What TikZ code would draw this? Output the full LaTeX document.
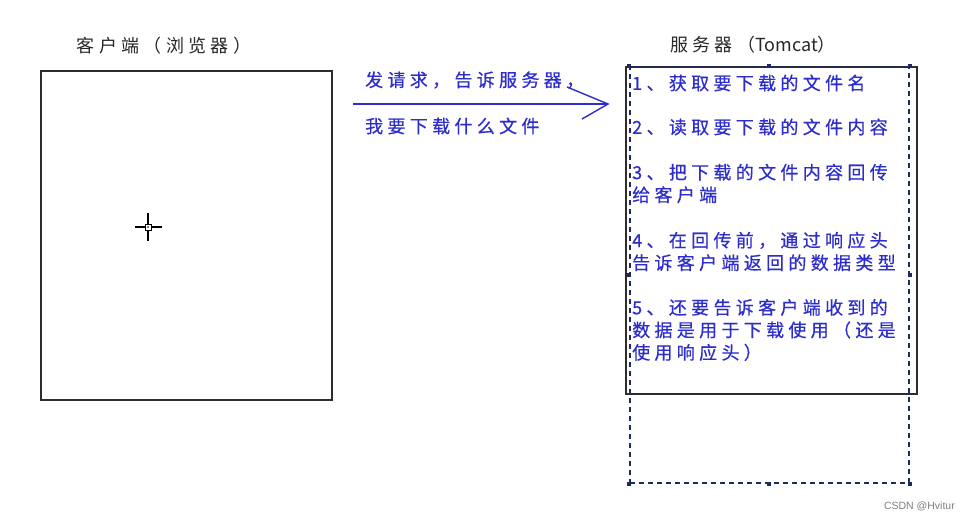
\documentclass[tikz,border=0pt]{standalone}
\usepackage{fontspec}
\newfontfamily\cjk{Noto Sans CJK SC}
\newfontfamily\cjksp[LetterSpace=24]{Noto Sans CJK SC}
\newfontfamily\cjkspb[LetterSpace=24,FakeBold=0.5]{Noto Sans CJK SC}
\setsansfont{Liberation Sans}
\definecolor{txtblue}{RGB}{45,45,205}
\definecolor{boxgray}{RGB}{45,45,45}
\definecolor{navy}{RGB}{30,40,100}
\definecolor{titlegray}{RGB}{40,40,40}
\tikzset{
  box/.style={draw=boxgray, line width=1.5pt, inner sep=0pt, anchor=north west},
  dbox/.style={draw=navy, line width=1.7pt, dash pattern=on 5pt off 4pt, inner sep=0pt, anchor=north west},
  title/.style={text=titlegray, font=\cjksp\fontsize{18}{20}\selectfont, inner sep=0pt},
  para/.style={text=txtblue, font=\cjkspb\fontsize{18}{22.5}\selectfont, align=left, anchor=west, inner sep=0pt},
  arrowline/.style={draw=txtblue, line width=1.4pt},
  handle/.style={fill=navy, minimum size=4pt, inner sep=0pt, draw=none}
}
\begin{document}
\begin{tikzpicture}[x=1pt,y=-1pt]
\useasboundingbox (0,0) rectangle (980,522);
\fill[white] (0,0) rectangle (980,522);

% client
\node[title] (ctitle) at (164,46) {客户端（浏览器）};
\node[box, minimum width=291pt, minimum height=329pt] (client) at (40,70) {};
\coordinate (cross) at (148,227);
\draw[line width=1.4pt, black] ([xshift=-13pt]cross) -- ([xshift=-3pt]cross);
\draw[line width=1.4pt, black] ([xshift=3pt]cross) -- ([xshift=14pt]cross);
\draw[line width=1.4pt, black] ([yshift=14pt]cross) -- ([yshift=3pt]cross);
\draw[line width=1.4pt, black] ([yshift=-3pt]cross) -- ([yshift=-14pt]cross);
\draw[line width=1pt, black] ([shift={(-3pt,-3pt)}]cross) rectangle ([shift={(3pt,3pt)}]cross);
\fill[black] (cross) circle (0.8pt);

% arrow
\coordinate (astart) at (353,104);
\coordinate (atip) at (608,104);
\coordinate (barbup) at (567,87);
\coordinate (barbdn) at (582,119);
\draw[arrowline] (astart) -- (atip);
\draw[arrowline, line join=miter] (barbup) -- (atip) -- (barbdn);
\node[para, anchor=west] (req1) at (365,80) {发请求，告诉服务器，};
\node[para, anchor=west] (req2) at (365,126) {我要下载什么文件};

% server
\node[title] (stitle) at (753,45) {服务器（{\cjk\fontsize{18}{20}\selectfont Tomcat}）};
\node[box, minimum width=291pt, minimum height=327pt] (server) at (625,66) {};
\node[dbox, minimum width=279pt, minimum height=416pt] (sel) at (629,66) {};
\foreach \a in {north west,north,north east,west,east,south west,south,south east}
  \node[handle] at (sel.\a) {};

\node[para] (p1) at (632,83) {1、获取要下载的文件名};
\node[para] (p2) at (632,127) {2、读取要下载的文件内容};
\node[para] (p3) at (632,183.5) {3、把下载的文件内容回传\\给客户端};
\node[para] (p4) at (632,251.5) {4、在回传前，通过响应头\\告诉客户端返回的数据类型};
\node[para] (p5) at (632,330) {5、还要告诉客户端收到的\\数据是用于下载使用（还是\\使用响应头）};

% watermark
\node[text=gray, font=\sffamily\fontsize{10.5}{12}\selectfont, anchor=east, inner sep=0pt] (wm) at (955,506) {CSDN @Hvitur};
\end{tikzpicture}
\end{document}
